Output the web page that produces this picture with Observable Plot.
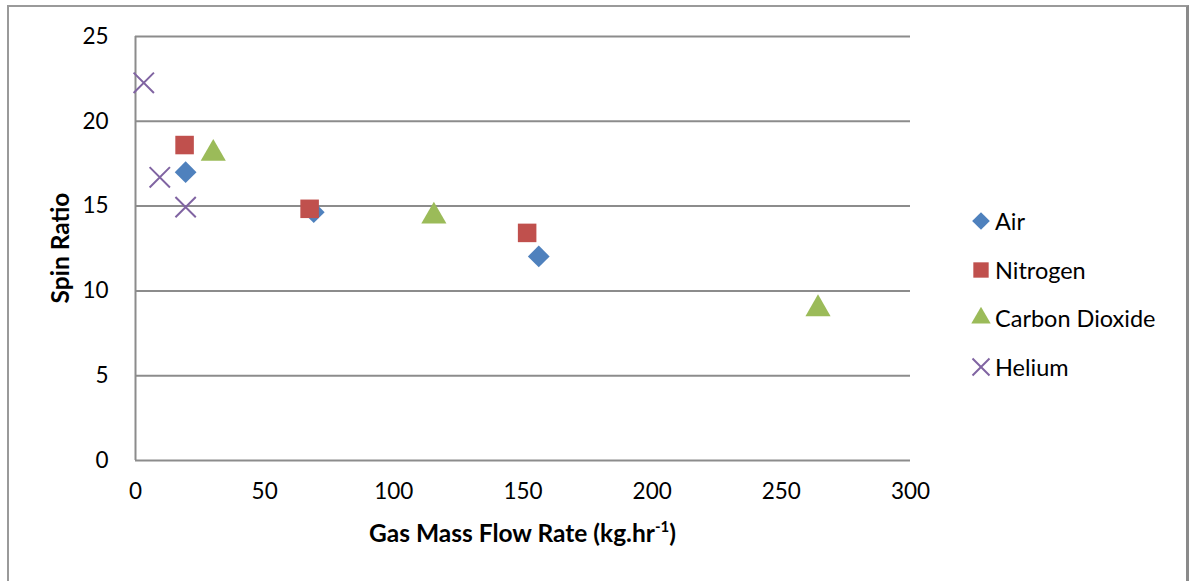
<!DOCTYPE html>
<html><head><meta charset="utf-8">
<script src="https://cdn.jsdelivr.net/npm/d3@7"></script>
<script src="https://cdn.jsdelivr.net/npm/@observablehq/plot@0.6"></script>
<style>
body{margin:0;background:#fff;}
#wrap{position:relative;width:1193px;height:581px;overflow:hidden;background:#fff;font-family:Lato,"Open Sans",sans-serif;}
#frame{position:absolute;left:7px;top:5px;width:1182px;height:620px;border:2px solid #9a9a9a;border-right:3px solid #8a8a8a;border-bottom:none;box-sizing:border-box;}
#chart{position:absolute;left:0;top:0;}
#legend{position:absolute;left:970px;top:197px;font-size:23.5px;color:#000;}
.row{display:flex;align-items:center;height:48.5px;}
.row svg{width:22px;height:22px;margin-right:3px;}
</style>
</head><body>
<div id="wrap"><div id="frame"></div><div id="chart"></div><div id="legend"></div></div>
<script>
const seriesNames = ["Air", "Nitrogen", "Carbon Dioxide", "Helium"];
const seriesColors = ["#4F81BD", "#C0504D", "#9BBB59", "#8064A2"];
const airX = [19.4, 69.0, 156.1];
const airY = [17.0, 14.64, 12.03];
const nitrogenX = [19.0, 67.4, 151.6];
const nitrogenY = [18.6, 14.84, 13.42];
const co2X = [30.1, 115.5, 264.2];
const co2Y = [18.1, 14.4, 8.94];
const heliumX = [3.2, 9.4, 19.4];
const heliumY = [22.27, 16.7, 14.94];
const xTicks = [0, 50, 100, 150, 200, 250, 300];
const yTicks = [0, 5, 10, 15, 20, 25];

const toRows = (xs, ys, s) => xs.map((x, i) => ({x, y: ys[i], s}));
const air = toRows(airX, airY, seriesNames[0]);
const nitrogen = toRows(nitrogenX, nitrogenY, seriesNames[1]);
const co2 = toRows(co2X, co2Y, seriesNames[2]);
const helium = toRows(heliumX, heliumY, seriesNames[3]);

const grid = "#8c8c8c";
const plot = Plot.plot({
  width: 1193, height: 581,
  marginLeft: 135, marginRight: 283, marginTop: 36, marginBottom: 121,
  style: {fontFamily: "Lato, 'Open Sans', sans-serif", fontSize: "22.5px", color: "#000", background: "transparent"},
  x: {domain: [0, 300]},
  y: {domain: [0, 25]},
  marks: [
    Plot.ruleY(yTicks, {stroke: grid, strokeWidth: 2}),
    Plot.ruleX([0], {stroke: grid, strokeWidth: 2}),
    Plot.axisX({ticks: xTicks, tickSize: 0, tickPadding: 23, label: null, fill: "#000"}),
    Plot.axisY({ticks: yTicks, tickSize: 0, tickPadding: 27, label: null, fill: "#000"}),
    Plot.dot(air, {x: "x", y: "y", symbol: "diamond2", r: 9.8, fill: seriesColors[0]}),
    Plot.dot(nitrogen, {x: "x", y: "y", symbol: "square2", r: 11.8, fill: seriesColors[1]}),
    Plot.dot(co2, {x: "x", y: "y", symbol: "triangle2", r: 12, fill: seriesColors[2]}),
    Plot.dot(helium, {x: "x", y: "y", symbol: "times", r: 9.3, stroke: seriesColors[3], strokeWidth: 2})
  ]
});
document.getElementById("chart").appendChild(plot);

const svg = d3.select(plot);
const sx = plot.scale("x"), sy = plot.scale("y");
const cx = (sx.apply(0) + sx.apply(300)) / 2;
const cy = (sy.apply(0) + sy.apply(25)) / 2;
const xl = svg.append("text")
  .attr("x", cx).attr("y", 542)
  .attr("text-anchor", "middle")
  .attr("font-weight", "bold").attr("font-size", 24.5).attr("fill", "#000");
xl.append("tspan").text("Gas Mass Flow Rate (kg.hr");
xl.append("tspan").text("-1").attr("font-size", 15).attr("dy", -10);
xl.append("tspan").text(")").attr("dy", 10);
svg.append("text")
  .attr("transform", `translate(69,${cy}) rotate(-90)`)
  .attr("text-anchor", "middle")
  .attr("font-weight", "bold").attr("font-size", 24.5).attr("fill", "#000")
  .text("Spin Ratio");

const legendSymbols = [d3.symbolDiamond2, d3.symbolSquare2, d3.symbolTriangle2, d3.symbolTimes];
const legendSizes = [200, 300, 270, 190];
const legend = d3.select("#legend");
seriesNames.forEach((name, i) => {
  const row = legend.append("div").attr("class", "row");
  const s = row.append("svg").attr("viewBox", "-11 -11 22 22");
  const p = s.append("path").attr("d", d3.symbol(legendSymbols[i], legendSizes[i])());
  if (i === 3) p.attr("fill", "none").attr("stroke", seriesColors[i]).attr("stroke-width", 2);
  else p.attr("fill", seriesColors[i]);
  row.append("span").text(name);
});
</script>
</body></html>
